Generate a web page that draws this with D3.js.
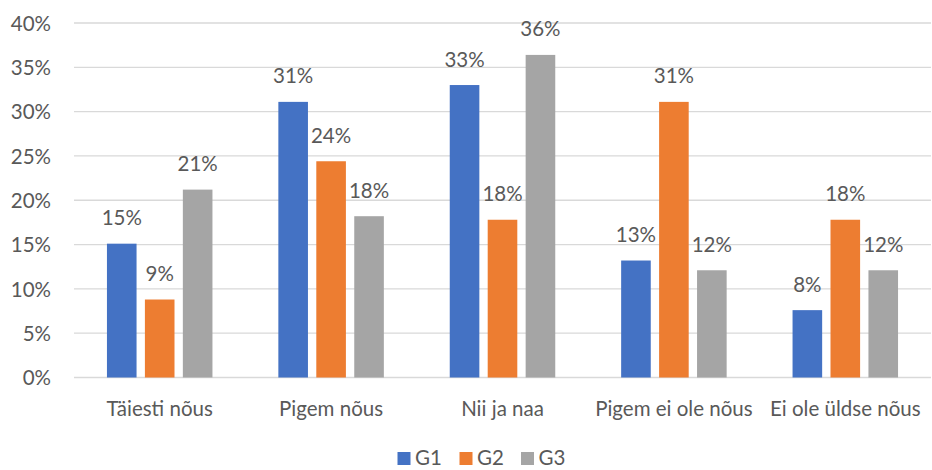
<!DOCTYPE html>
<html>
<head>
<meta charset="utf-8">
<script src="https://cdn.jsdelivr.net/npm/d3@7"></script>
<style>
  body { margin: 0; background: #fff; }
  svg text { font-family: Lato, "Open Sans", sans-serif; fill: #595959; }
</style>
</head>
<body>
<div id="chart"></div>
<script>
// data
var categories = ["Täiesti nõus", "Pigem nõus", "Nii ja naa", "Pigem ei ole nõus", "Ei ole üldse nõus"];
var seriesNames = ["G1", "G2", "G3"];
var g1 = [15.1, 31.1, 33.0, 13.2, 7.6];
var g2 = [8.8, 24.4, 17.8, 31.1, 17.8];
var g3 = [21.2, 18.2, 36.4, 12.1, 12.1];
var yTicks = [0, 5, 10, 15, 20, 25, 30, 35, 40];
var colors = ["#4472C4", "#ED7D31", "#A5A5A5"];

var svgWidth = 932;
var svgHeight = 470;
var fontSize = "20.5px";

var margin = { top: 23, right: 1, bottom: 92.5, left: 74 };
var width = svgWidth - margin.left - margin.right;
var height = svgHeight - margin.top - margin.bottom;

var svg = d3.select("#chart")
    .append("svg")
    .attr("width", svgWidth)
    .attr("height", svgHeight);

var chartGroup = svg.append("g")
    .attr("transform", `translate(${margin.left}, ${margin.top})`);

var allSeries = [g1, g2, g3];
var rows = categories.map(function(c, i) {
    return { cat: c, vals: allSeries.map(function(s, j) { return { name: seriesNames[j], value: s[i], idx: j }; }) };
});

// scales
var x0 = d3.scaleBand().domain(categories).range([0, width]).padding(0);
var groupW = 105.5;
var x1 = d3.scaleBand().domain(seriesNames)
    .range([(x0.bandwidth() - groupW) / 2, (x0.bandwidth() + groupW) / 2])
    .paddingInner(0.22);
var y = d3.scaleLinear().domain([0, 40]).range([height, 0]);

// gridlines
chartGroup.append("g")
    .selectAll("line")
    .data(yTicks)
    .enter()
    .append("line")
    .attr("x1", 0)
    .attr("x2", width)
    .attr("y1", d => y(d))
    .attr("y2", d => y(d))
    .attr("stroke", "#D9D9D9")
    .attr("stroke-width", 1.3);

// y axis labels
var leftAxis = d3.axisLeft(y).tickValues(yTicks).tickSize(0).tickPadding(23).tickFormat(d => d + "%");
var yAxisG = chartGroup.append("g").call(leftAxis);
yAxisG.select(".domain").remove();
yAxisG.selectAll("text").style("font-size", fontSize).attr("dy", "0.35em");

// bars
var groups = chartGroup.selectAll(".grp")
    .data(rows)
    .enter()
    .append("g")
    .attr("class", "grp")
    .attr("transform", d => `translate(${x0(d.cat)}, 0)`);

groups.selectAll("rect")
    .data(d => d.vals)
    .enter()
    .append("rect")
    .attr("x", d => x1(d.name))
    .attr("y", d => y(d.value))
    .attr("width", x1.bandwidth())
    .attr("height", d => height - y(d.value))
    .attr("fill", d => colors[d.idx]);

groups.selectAll("text")
    .data(d => d.vals)
    .enter()
    .append("text")
    .attr("x", d => x1(d.name) + x1.bandwidth() / 2)
    .attr("y", d => y(d.value) - 18.5)
    .style("text-anchor", "middle")
    .style("font-size", fontSize)
    .text(d => Math.round(d.value) + "%");

// x axis labels
var bottomAxis = d3.axisBottom(x0).tickSize(0).tickPadding(0);
var xAxisG = chartGroup.append("g")
    .attr("transform", `translate(0, ${height})`)
    .call(bottomAxis);
xAxisG.select(".domain").remove();
xAxisG.selectAll("text")
    .attr("y", 416 - margin.top - height)
    .attr("dy", 0)
    .style("font-size", fontSize);

// legend
var legendX = [397.5, 459.5, 521];
var legend = svg.append("g");
seriesNames.forEach(function(name, i) {
    legend.append("rect")
        .attr("x", legendX[i])
        .attr("y", 452)
        .attr("width", 13)
        .attr("height", 13)
        .attr("fill", colors[i]);
    legend.append("text")
        .attr("x", legendX[i] + 17.5)
        .attr("y", 465)
        .style("font-size", fontSize)
        .text(name);
});
</script>
</body>
</html>
